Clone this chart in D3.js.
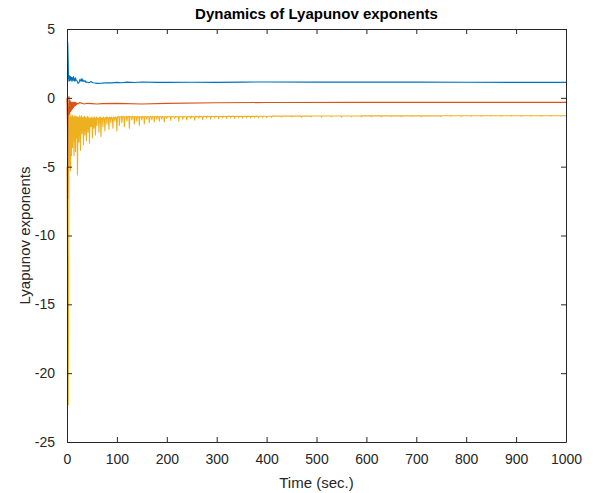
<!DOCTYPE html>
<html lang="en">
<head>
  <meta charset="UTF-8">
  <title>Dynamics of Lyapunov exponents</title>
  <script src="https://d3js.org/d3.v7.min.js"></script>
  <style>
    body {
      margin: 0;
      background: #fff;
      font-family: Arial, 'Liberation Sans', Helvetica, sans-serif;
    }
    .tick text { font-size: 14px; fill: #262626; }
    .axis path, .axis line { stroke: #262626; }
  </style>
</head>
<body>
<svg width="594" height="493"></svg>
<script>
  // axis ticks
  const xTicks = [0, 100, 200, 300, 400, 500, 600, 700, 800, 900, 1000];
  const yTicks = [-25, -20, -15, -10, -5, 0, 5];

  // [time, value]
  const blueData = [
    [0, 4.05], [1.5, 4.0], [2.5, 2.5], [3, 1.5], [4, 1.2], [5, 1.6], [6, 1.25], [7, 1.55], [8, 1.3], [9, 1.5],
    [10, 1.2], [11, 1.45], [12, 1.3], [13, 1.55], [14, 1.25], [15, 1.4], [16, 1.2], [17, 1.45], [18, 1.3], [20, 1.25],
    [22, 1.05], [24, 1.1], [26, 1.35], [28, 1.2], [30, 1.4], [31, 1.2], [32, 1.3], [34, 1.18], [36, 1.25], [38, 1.12],
    [40, 1.15], [44, 1.1], [48, 1.18], [52, 1.1], [56, 1.08], [60, 1.05], [70, 1.07], [80, 1.1], [90, 1.09], [100, 1.12],
    [110, 1.1], [120, 1.14], [135, 1.11], [150, 1.15], [180, 1.12], [200, 1.12], [250, 1.13], [300, 1.12], [350, 1.14], [400, 1.15],
    [500, 1.14], [600, 1.14], [700, 1.14], [800, 1.13], [900, 1.12], [1000, 1.12]
  ];

  const redData = [
    [0, 0], [1, -2.0], [2, -7.3], [3, -1.0], [4, 0.1], [5, -1.2], [6, -0.2], [7, -1.0], [8, -0.3], [9, -0.9],
    [10, -0.35], [11, -0.8], [12, -0.3], [13, -0.7], [14, -0.35], [15, -0.6], [16, -0.3], [17, -0.55], [18, -0.35], [19, -0.5],
    [20, -0.4], [22, -0.45], [25, -0.35], [30, -0.4], [35, -0.45], [40, -0.4], [50, -0.42], [60, -0.45], [70, -0.42], [100, -0.4],
    [150, -0.45], [200, -0.4], [300, -0.36], [400, -0.34], [600, -0.33], [800, -0.33], [1000, -0.33]
  ];

  const yellowData = [
    [0, -5], [1.5, -14], [2.5, -22.3], [3.5, -11], [4, -1.3], [5, -4.9], [6, -1.2], [7, -5.3], [8, -1.4], [9, -4.2],
    [10, -1.25], [11, -3.6], [12, -1.3], [13, -1.5], [14, -4.2], [15, -1.4], [16, -1.3], [17, -3.9], [18, -1.4], [19, -2.9],
    [20, -1.35], [21, -5.6], [22, -1.4], [23, -1.5], [24, -3.2], [25, -1.3], [26, -1.45], [27, -3.8], [28, -1.45], [29, -1.3],
    [30, -2.6], [31, -1.5], [32, -1.4], [33, -3.4], [34, -1.5], [35, -1.35], [36, -2.7], [37, -1.4], [38, -1.6], [39, -3.1],
    [40, -1.45], [41, -1.35], [42, -2.5], [43, -1.55], [44, -1.4], [45, -3.3], [46, -1.6], [47, -1.45], [48, -2.1], [49, -1.5],
    [50, -1.4], [51, -2.9], [52, -1.5], [53, -1.45], [54, -2.2], [55, -1.4], [56, -1.55], [57, -2.7], [58, -1.5], [59, -1.4],
    [60, -2.0], [61, -1.45], [63, -1.5], [64, -2.5], [65, -1.45], [67, -1.4], [68, -2.8], [69, -1.5], [71, -1.45], [72, -2.1],
    [73, -1.4], [75, -1.5], [76, -2.4], [77, -1.45], [79, -1.4], [80, -1.9], [81, -1.4], [83, -1.5], [84, -2.3], [85, -1.4],
    [87, -1.45], [88, -1.8], [89, -1.4], [91, -1.5], [92, -2.2], [93, -1.4], [95, -1.45], [96, -1.7], [97, -1.4], [99, -1.45],
    [100, -2.4], [101, -1.4], [104, -1.35], [105, -2.0], [106, -1.4], [109, -1.35], [110, -1.8], [111, -1.4], [114, -1.35], [115, -2.1],
    [116, -1.4], [119, -1.35], [120, -1.7], [121, -1.4], [124, -1.35], [125, -2.2], [126, -1.35], [129, -1.4], [130, -1.6], [131, -1.35],
    [134, -1.4], [135, -1.9], [136, -1.35], [139, -1.4], [140, -1.7], [141, -1.35], [144, -1.4], [145, -2.0], [146, -1.35], [149, -1.4],
    [150, -1.6], [151, -1.35], [154, -1.4], [155, -1.9], [156, -1.35], [159, -1.4], [160, -1.55], [161, -1.35], [164, -1.4], [165, -1.8],
    [166, -1.35], [169, -1.38], [170, -1.6], [171, -1.35], [174, -1.4], [175, -1.75], [176, -1.35], [179, -1.38], [180, -1.55], [181, -1.35],
    [184, -1.4], [185, -1.7], [186, -1.35], [189, -1.38], [190, -1.55], [191, -1.36], [194, -1.4], [195, -1.75], [196, -1.36], [199, -1.38],
    [200, -1.5], [201, -1.36], [207, -1.37], [208, -1.65], [209, -1.36], [215, -1.38], [216, -1.5], [217, -1.36], [223, -1.37], [224, -1.7],
    [225, -1.36], [231, -1.38], [232, -1.55], [233, -1.36], [239, -1.37], [240, -1.6], [241, -1.36], [247, -1.38], [248, -1.5], [249, -1.35],
    [255, -1.37], [256, -1.62], [257, -1.35], [263, -1.37], [264, -1.48], [265, -1.35], [271, -1.37], [272, -1.58], [273, -1.35], [279, -1.36],
    [280, -1.47], [281, -1.35], [287, -1.36], [288, -1.55], [289, -1.35], [295, -1.36], [296, -1.46], [297, -1.35], [303, -1.36], [304, -1.52],
    [305, -1.35], [311, -1.36], [312, -1.45], [313, -1.35], [319, -1.36], [320, -1.5], [321, -1.35], [327, -1.35], [328, -1.44], [329, -1.34],
    [335, -1.35], [336, -1.49], [337, -1.34], [343, -1.35], [344, -1.43], [345, -1.34], [351, -1.35], [352, -1.47], [353, -1.34], [359, -1.35],
    [360, -1.42], [361, -1.34], [367, -1.35], [368, -1.46], [369, -1.34], [375, -1.35], [376, -1.41], [377, -1.34], [383, -1.35], [384, -1.45],
    [385, -1.34], [391, -1.34], [392, -1.41], [393, -1.34], [399, -1.34], [400, -1.44], [401, -1.34], [409, -1.34], [410, -1.42], [411, -1.33],
    [429, -1.33], [430, -1.4], [431, -1.33], [449, -1.33], [450, -1.38], [451, -1.33], [469, -1.33], [470, -1.41], [471, -1.33], [489, -1.33],
    [490, -1.37], [491, -1.32], [509, -1.32], [510, -1.4], [511, -1.32], [529, -1.32], [530, -1.37], [531, -1.32], [549, -1.32], [550, -1.39],
    [551, -1.32], [569, -1.32], [570, -1.36], [571, -1.32], [589, -1.32], [590, -1.38], [591, -1.31], [609, -1.31], [610, -1.36], [611, -1.31],
    [629, -1.31], [630, -1.38], [631, -1.31], [649, -1.31], [650, -1.35], [651, -1.31], [669, -1.31], [670, -1.37], [671, -1.31], [689, -1.31],
    [690, -1.35], [691, -1.31], [709, -1.31], [710, -1.36], [711, -1.31], [729, -1.31], [730, -1.34], [731, -1.31], [749, -1.31], [750, -1.36],
    [751, -1.3], [769, -1.3], [770, -1.34], [771, -1.3], [789, -1.3], [790, -1.36], [791, -1.3], [809, -1.3], [810, -1.34], [811, -1.3],
    [829, -1.3], [830, -1.35], [831, -1.3], [849, -1.3], [850, -1.33], [851, -1.3], [869, -1.3], [870, -1.35], [871, -1.3], [889, -1.3],
    [890, -1.33], [891, -1.3], [909, -1.3], [910, -1.34], [911, -1.3], [929, -1.3], [930, -1.33], [931, -1.3], [949, -1.3], [950, -1.34],
    [951, -1.3], [969, -1.3], [970, -1.33], [971, -1.3], [989, -1.3], [990, -1.33], [991, -1.3], [1000, -1.3]
  ];

  const series = [
    { data: blueData, color: "#0072BD" },
    { data: redData, color: "#D95319" },
    { data: yellowData, color: "#EDB120" }
  ];

  const margin = { top: 29, right: 28, bottom: 51, left: 67 };
  const width = 594 - margin.left - margin.right;
  const height = 493 - margin.top - margin.bottom;

  const svg = d3.select("svg");
  const g = svg.append("g").attr("transform", `translate(${margin.left},${margin.top})`);

  const x = d3.scaleLinear().domain([0, 1000]).range([0, width]);
  const y = d3.scaleLinear().domain([-25, 5]).range([height, 0]);

  const line = d3.line()
    .x(d => x(d[0]))
    .y(d => y(d[1]));

  series.forEach(s => {
    g.append("path")
      .datum(s.data)
      .attr("fill", "none")
      .attr("stroke", s.color)
      .attr("stroke-width", 1.1)
      .attr("stroke-linejoin", "round")
      .attr("d", line);
  });

  // axes, ticks pointing inward like matlab
  const fmt = d => String(d);
  g.append("g").attr("class", "axis")
    .attr("transform", `translate(0,${height})`)
    .call(d3.axisBottom(x).tickValues(xTicks).tickFormat(fmt).tickSizeInner(-5).tickSizeOuter(0).tickPadding(12));
  g.append("g").attr("class", "axis")
    .call(d3.axisTop(x).tickValues(xTicks).tickSizeInner(-5).tickSizeOuter(0).tickFormat(""));
  g.append("g").attr("class", "axis")
    .call(d3.axisLeft(y).tickValues(yTicks).tickFormat(fmt).tickSizeInner(-5).tickSizeOuter(0).tickPadding(12));
  g.append("g").attr("class", "axis")
    .attr("transform", `translate(${width},0)`)
    .call(d3.axisRight(y).tickValues(yTicks).tickSizeInner(-5).tickSizeOuter(0).tickFormat(""));
  g.selectAll(".axis text").attr("font-family", null);

  svg.append("text")
    .attr("x", margin.left + width / 2)
    .attr("y", 19)
    .attr("text-anchor", "middle")
    .attr("font-size", 15)
    .attr("font-weight", "bold")
    .attr("fill", "#000")
    .text("Dynamics of Lyapunov exponents");

  svg.append("text")
    .attr("x", margin.left + width / 2)
    .attr("y", 488)
    .attr("text-anchor", "middle")
    .attr("font-size", 15)
    .attr("fill", "#262626")
    .text("Time (sec.)");

  svg.append("text")
    .attr("transform", `translate(30,${margin.top + height / 2}) rotate(-90)`)
    .attr("text-anchor", "middle")
    .attr("font-size", 15)
    .attr("fill", "#262626")
    .text("Lyapunov exponents");
</script>
</body>
</html>
